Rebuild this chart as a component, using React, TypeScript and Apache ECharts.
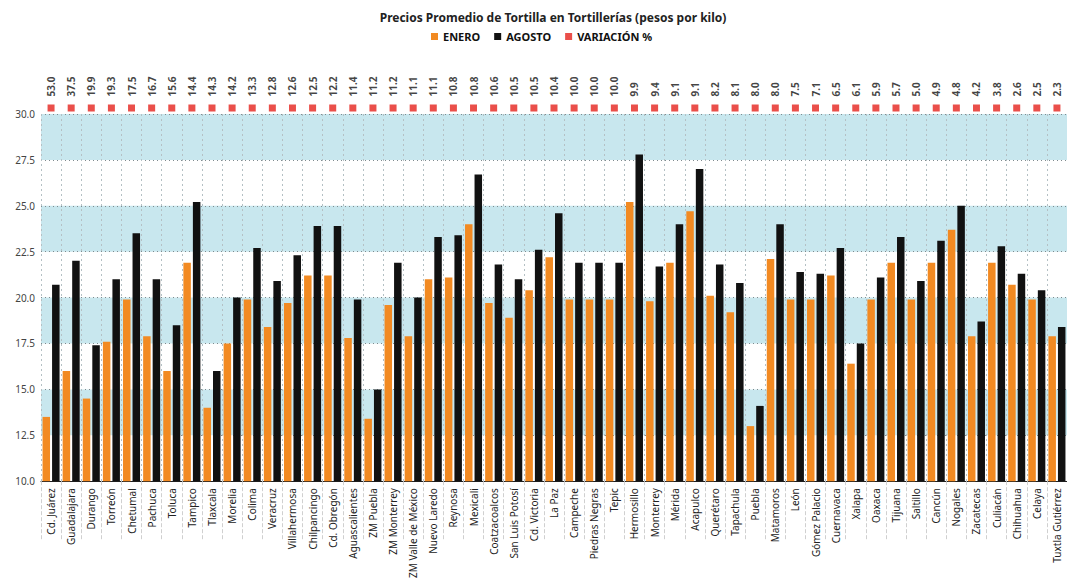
import React, { useEffect, useRef } from "react";
import * as echarts from "echarts";

const ciudades = [
  "Cd. Juárez", "Guadalajara", "Durango", "Torreón", "Chetumal", "Pachuca", "Toluca", "Tampico",
  "Tlaxcala", "Morelia", "Colima", "Veracruz", "Villahermosa", "Chilpancingo", "Cd. Obregón",
  "Aguascalientes", "ZM Puebla", "ZM Monterrey", "ZM Valle de México", "Nuevo Laredo", "Reynosa",
  "Mexicali", "Coatzacoalcos", "San Luis Potosí", "Cd. Victoria", "La Paz", "Campeche",
  "Piedras Negras", "Tepic", "Hermosillo", "Monterrey", "Mérida", "Acapulco", "Querétaro",
  "Tapachula", "Puebla", "Matamoros", "León", "Gómez Palacio", "Cuernavaca", "Xalapa", "Oaxaca",
  "Tijuana", "Saltillo", "Cancún", "Nogales", "Zacatecas", "Culiacán", "Chihuahua", "Celaya",
  "Tuxtla Gutiérrez",
];

const enero = [
  13.5, 16.0, 14.5, 17.6, 19.9, 17.9, 16.0, 21.9, 14.0, 17.5, 19.9, 18.4, 19.7, 21.2, 21.2,
  17.8, 13.4, 19.6, 17.9, 21.0, 21.1, 24.0, 19.7, 18.9, 20.4, 22.2, 19.9, 19.9, 19.9, 25.2,
  19.8, 21.9, 24.7, 20.1, 19.2, 13.0, 22.1, 19.9, 19.9, 21.2, 16.4, 19.9, 21.9, 19.9, 21.9,
  23.7, 17.9, 21.9, 20.7, 19.9, 17.9,
];

const agosto = [
  20.7, 22.0, 17.4, 21.0, 23.5, 21.0, 18.5, 25.2, 16.0, 20.0, 22.7, 20.9, 22.3, 23.9, 23.9,
  19.9, 15.0, 21.9, 20.0, 23.3, 23.4, 26.7, 21.8, 21.0, 22.6, 24.6, 21.9, 21.9, 21.9, 27.8,
  21.7, 24.0, 27.0, 21.8, 20.8, 14.1, 24.0, 21.4, 21.3, 22.7, 17.5, 21.1, 23.3, 20.9, 23.1,
  25.0, 18.7, 22.8, 21.3, 20.4, 18.4,
];

const variacion = [
  53.0, 37.5, 19.9, 19.3, 17.5, 16.7, 15.6, 14.4, 14.3, 14.2, 13.3, 12.8, 12.6, 12.5, 12.2,
  11.4, 11.2, 11.2, 11.1, 11.1, 10.8, 10.8, 10.6, 10.5, 10.5, 10.4, 10.0, 10.0, 10.0, 9.9,
  9.4, 9.1, 9.1, 8.2, 8.1, 8.0, 8.0, 7.5, 7.1, 6.5, 6.1, 5.9, 5.7, 5.0, 4.9, 4.8, 4.2, 3.8,
  2.6, 2.5, 2.3,
];

const TITULO = "Precios Promedio de Tortilla en Tortillerías (pesos por kilo)";
const SERIES_NOMBRES = ["ENERO", "AGOSTO", "VARIACIÓN %"];
const Y_MIN = 10;
const Y_MAX = 30;
const Y_INTERVAL = 2.5;

const FONT = "'Noto Sans', 'Open Sans', sans-serif";
const NARANJA = "#f28a22";
const NEGRO = "#111111";
const ROJO = "#e5231d";

export default function App() {
  const ref = useRef<HTMLDivElement>(null);

  useEffect(() => {
    if (!ref.current) return;
    const chart = echarts.init(ref.current, null, { renderer: "svg" });
    const gridLeft = 41;
    const gridWidth = 1029;
    chart.setOption({
      animation: false,
      backgroundColor: "#ffffff",
      textStyle: { fontFamily: FONT },
      title: {
        text: TITULO,
        left: 548,
        top: 6,
        textAlign: "center",
        textStyle: { fontSize: 12, fontWeight: "bold", color: "#222", fontFamily: FONT },
      },
      legend: {
        data: SERIES_NOMBRES,
        left: 426,
        top: 26,
        icon: "rect",
        itemWidth: 7,
        itemHeight: 7,
        itemGap: 14,
        textStyle: { fontSize: 11, fontWeight: "bold", color: "#111", fontFamily: FONT },
      },
      grid: [
        { left: gridLeft, width: gridWidth, top: 114, height: 368 },
        { left: gridLeft, width: gridWidth, top: 100, height: 16 },
      ],
      xAxis: [
        {
          type: "category",
          gridIndex: 0,
          data: ciudades,
          boundaryGap: true,
          axisLine: { show: true, lineStyle: { color: "#222", width: 1 } },
          axisTick: {
            show: true,
            interval: 0,
            length: 58,
            lineStyle: { color: "#d0d0d0", type: "dashed", width: 1 },
          },
          axisLabel: {
            interval: 0,
            rotate: 90,
            fontSize: 10,
            color: "#222",
            margin: 7,
            fontFamily: FONT,
          },
          splitLine: {
            show: true,
            interval: 0,
            lineStyle: { color: "#b4c0c4", type: [2, 3], width: 1 },
          },
        },
        {
          type: "category",
          gridIndex: 1,
          data: ciudades,
          boundaryGap: true,
          show: false,
        },
      ],
      yAxis: [
        {
          type: "value",
          gridIndex: 0,
          min: Y_MIN,
          max: Y_MAX,
          interval: Y_INTERVAL,
          axisLine: { show: false },
          axisTick: { show: false },
          axisLabel: {
            fontSize: 10,
            color: "#444",
            margin: 6,
            formatter: (v: number) => v.toFixed(1),
            fontFamily: FONT,
          },
          splitLine: { show: true, lineStyle: { color: "#7f8a8e", type: [1, 3], width: 1 } },
          splitArea: { show: true, areaStyle: { color: ["rgba(255,255,255,0)", "#c8e7ee"] } },
        },
        {
          type: "category",
          gridIndex: 1,
          data: [""],
          show: false,
        },
      ],
      series: [
        {
          name: SERIES_NOMBRES[0],
          type: "bar",
          xAxisIndex: 0,
          yAxisIndex: 0,
          data: enero,
          barWidth: 7.5,
          barGap: "27%",
          itemStyle: { color: NARANJA },
        },
        {
          name: SERIES_NOMBRES[1],
          type: "bar",
          xAxisIndex: 0,
          yAxisIndex: 0,
          data: agosto,
          barWidth: 7.5,
          barGap: "27%",
          itemStyle: { color: NEGRO },
        },
        {
          name: SERIES_NOMBRES[2],
          type: "scatter",
          xAxisIndex: 1,
          yAxisIndex: 1,
          symbol: "rect",
          symbolSize: 7,
          data: variacion.map((v, i) => [ciudades[i], "", v]),
          itemStyle: { color: ROJO },
          label: {
            show: true,
            position: "top",
            distance: 8,
            rotate: 90,
            align: "left",
            verticalAlign: "middle",
            fontSize: 10,
            fontWeight: "bold",
            color: "#111",
            fontFamily: FONT,
            formatter: (p: any) => Number(p.value[2]).toFixed(1),
          },
        },
      ],
    });
    return () => chart.dispose();
  }, []);

  return (
    <div
      ref={ref}
      style={{ position: "absolute", left: 0, top: 0, width: 1067, height: 581 }}
    />
  );
}
